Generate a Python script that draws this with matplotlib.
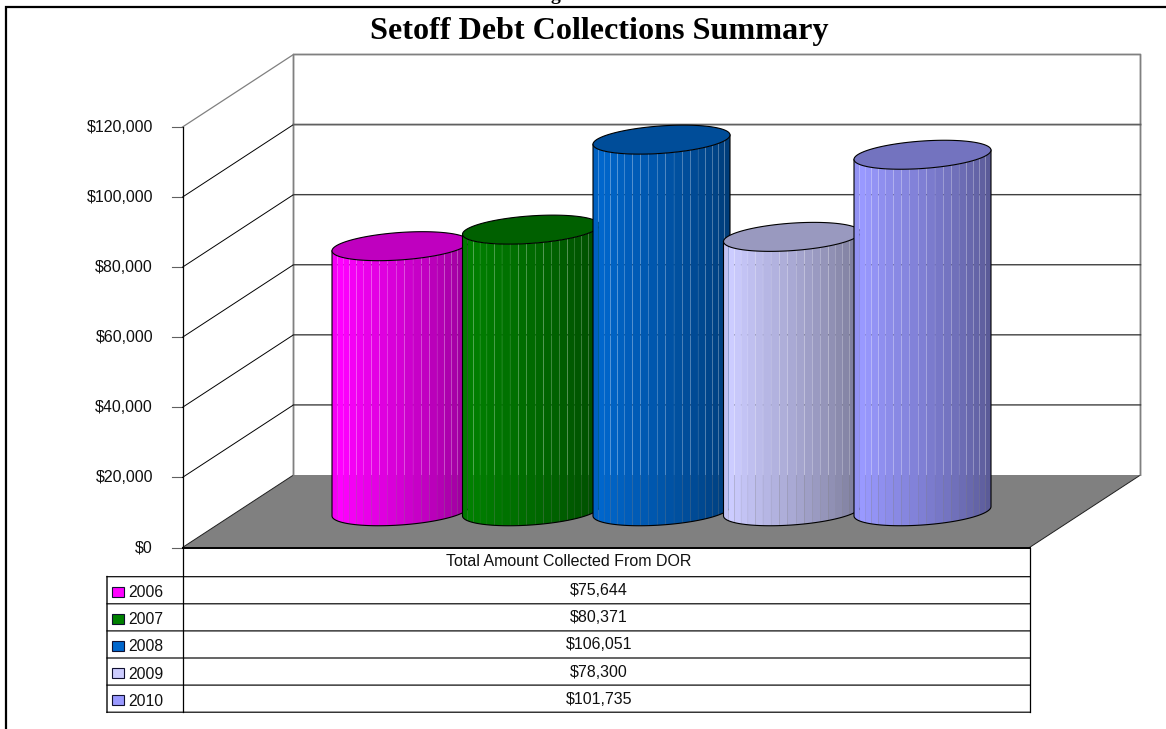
import numpy as np
import matplotlib
matplotlib.use('Agg')
import matplotlib.pyplot as plt
from matplotlib.patches import Polygon, Rectangle

years = ['2006', '2007', '2008', '2009', '2010']
collected = [75644, 80371, 106051, 78300, 101735]
ticks = [0, 20000, 40000, 60000, 80000, 100000, 120000]
colors = ['#FF00FF', '#008000', '#0066CC', '#CCCCFF', '#9999FF']
row_title = 'Total Amount Collected From DOR'
title = 'Setoff Debt Collections Summary'

# chart geometry, in pixels
left, right = 182.5, 1029.5
base = 547.5
per_dollar = 420.5 / 120000
dx, dy = 111, 72.5
slot = 130.5
r_wide, r_tall, tilt = 68.5, 14.5, np.arctan2(22, 65)


def val_y(v):
    return base - v * per_dollar


def rim(cx, cy, a):
    return cx + r_wide * np.cos(a), cy - r_tall * np.sin(a + tilt)


def shade(c, k):
    return tuple(np.array(matplotlib.colors.to_rgb(c)) * k)


plt.rcParams['font.family'] = 'Liberation Sans'
fig = plt.figure(figsize=(11.66, 7.29), dpi=100)
ax = fig.add_axes([0, 0, 1, 1])
ax.set_xlim(0, 1166)
ax.set_ylim(729, 0)
ax.axis('off')

# outer frame and the headline
ax.plot([5.5, 5.5, 1166], [729, 7, 7], color='black', lw=1.6, solid_joinstyle='miter')
ax.text(599, 31.5, title, family='Liberation Serif', weight='bold', size=23.1, ha='center', va='center')
ax.text(555, 0, 'g', family='Liberation Serif', weight='bold', size=14, ha='center', va='baseline')

# floor
floor = Polygon([(left, base), (right, base), (right + dx, base - dy), (left + dx, base - dy)],
                facecolor='#808080', edgecolor='none', zorder=1)
ax.add_patch(floor)
ax.plot([left, left + dx], [base, base - dy], color='#202020', lw=0.7, zorder=2)
ax.plot([right, right + dx], [base, base - dy], color='#202020', lw=0.7, zorder=2)

# walls, grid lines and value axis
top = val_y(ticks[-1])
ax.plot([left + dx, left + dx, right + dx, right + dx], [base - dy, top - dy, top - dy, base - dy],
        color='#808080', lw=1.3, zorder=2, snap=False)
ax.plot([left, left + dx], [top, top - dy], color='#808080', lw=0.9, zorder=2)
for t in ticks:
    y = val_y(t)
    ax.plot([left - 10.5, left], [y, y], color='#606060', lw=0.8, zorder=2)
    ax.text(153, y, f'${t:,}', size=11.5, ha='right', va='center', color='#101010')
    if 0 < t < ticks[-1]:
        ax.plot([left, left + dx], [y, y - dy], color='black', lw=0.7, zorder=2)
        # the grid lines land between pixel rows, so the upper one reads wider and greyer
        grid_col, grid_lw = ('#606060', 1.3) if t == ticks[-2] else ('#404040', 1.0)
        ax.plot([left + dx, right + dx], [y - dy, y - dy], color=grid_col, lw=grid_lw, zorder=2, snap=False)

# cylinders, painted left to right so that each one covers the previous
center = (left + right + dx) / 2
for i, (val, col) in enumerate(zip(collected, colors)):
    z = 3 + i
    cx = center + (i - 2) * slot
    y0 = base - dy / 2
    y1 = y0 - val * per_dollar
    n = 19
    u = np.linspace(0, 1, n + 1)
    s = 0.7 * u + 0.3 * (1 - np.cos(np.pi * u)) / 2
    edge = 2 * np.pi - np.arccos(2 * s - 1)
    for k in range(n):
        f = (k + 0.5) / n
        amt = np.interp(f, [0, 0.08, 0.5, 0.9, 1], [0.93, 1, 0.83, 0.64, 0.58])
        seg = np.linspace(edge[k], edge[k + 1], 6)
        # small gap between strips lets the backdrop show through as a seam
        bx, by = rim(cx, y0, seg)
        tx, ty = rim(cx, y1, seg)
        gap = 0.15 if k < n - 1 else 0
        bx = np.clip(bx, bx[0], bx[-1] - gap)
        tx = np.clip(tx, tx[0], tx[-1] - gap)
        ax.add_patch(Polygon(np.r_[np.c_[tx, ty], np.c_[bx, by][::-1]],
                             facecolor=shade(col, amt), edgecolor='none', zorder=z))
    a = np.linspace(np.pi, 2 * np.pi, 80)
    bx, by = rim(cx, y0, a)
    tx, ty = rim(cx, y1, a)
    ax.plot(np.r_[tx[0], bx, tx[-1]], np.r_[ty[0], by, ty[-1]], color='black', lw=0.8, zorder=z)
    a = np.linspace(0, 2 * np.pi, 160)
    tx, ty = rim(cx, y1, a)
    ax.add_patch(Polygon(np.c_[tx, ty], facecolor=shade(col, 0.75), edgecolor='black', lw=0.8, zorder=z))

# data table under the chart
row0 = 576.7
row_h = 27.1
bottom = row0 + row_h * len(years)
label_x = 599
ax.plot([left, right], [base, base], color='black', lw=1.4, zorder=20)
ax.plot([left, left], [val_y(ticks[-1]), bottom], color='black', lw=0.9, zorder=20)
ax.plot([right, right], [base, bottom], color='black', lw=0.9, zorder=20)
ax.plot([107, 107], [row0, bottom], color='#303030', lw=1.2, zorder=20, snap=False)
ax.text(569, 562, row_title, size=11.5, ha='center', va='center', color='#101010')
for i in range(len(years) + 1):
    y = row0 + row_h * i
    ax.plot([107, right], [y, y], color='black', lw=0.85, zorder=20, snap=False)
for i, (yr, val, col) in enumerate(zip(years, collected, colors)):
    mid = row0 + row_h * i + row_h / 2
    ax.add_patch(Rectangle((111.5, mid + 1.5 - 5.2), 12, 10, facecolor=col, edgecolor='#101030', lw=0.8, zorder=21))
    ax.text(128, mid + 2.5, yr, size=11.3, ha='left', va='center', color='#101010')
    ax.text(label_x, mid + 0.5, f'${val:,}', size=11.5, ha='center', va='center', color='#101010')

fig.savefig('out.png', dpi=100)
